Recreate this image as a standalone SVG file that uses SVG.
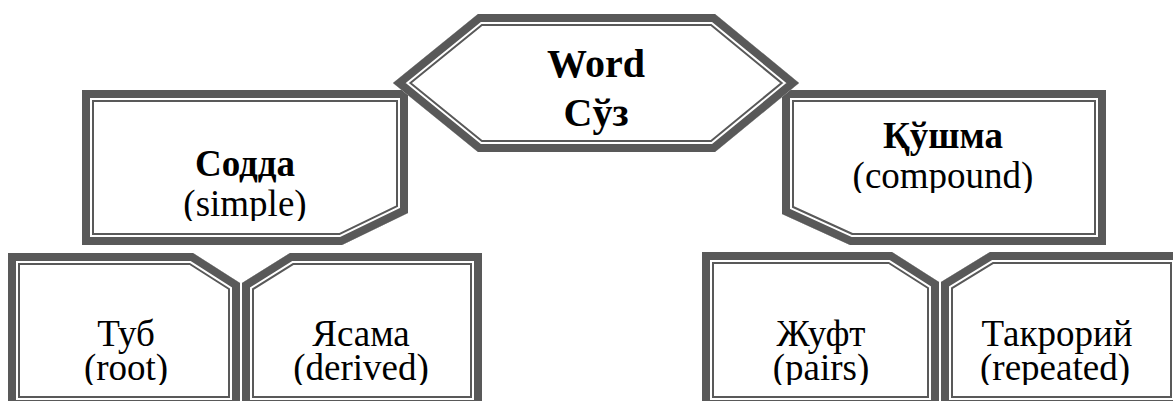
<svg xmlns="http://www.w3.org/2000/svg" width="1173" height="401" viewBox="0 0 1173 401">
<style>
.f{fill:#fff;stroke:none}
.o{fill:none;stroke:#595959;stroke-width:24;stroke-linejoin:miter;stroke-miterlimit:20}
.w{fill:none;stroke:#fff;stroke-width:20;stroke-linejoin:miter;stroke-miterlimit:20}
.i{fill:none;stroke:#595959;stroke-width:16;stroke-linejoin:miter;stroke-miterlimit:20}
text{font-family:'Liberation Serif','Times New Roman',serif;font-size:37px;fill:#000;text-anchor:middle}
.b{font-weight:bold}
.big{font-size:40px}
</style>
<defs>
<polygon id="p-word" points="393,83 478,14 715,14 799,83 715,152 478,152"/>
<polygon id="p-sodda" points="82,90 408,90 408,213 342,245 82,245"/>
<polygon id="p-qushma" points="782,90 1106,90 1106,245 850,245 782,214"/>
<polygon id="p-tub" points="8,253 193,253 240,283 240,408 8,408"/>
<polygon id="p-yasama" points="242,283 290,253 482,253 482,408 242,408"/>
<polygon id="p-juft" points="702,252 892,252 939,282 939,408 702,408"/>
<polygon id="p-takror" points="941,282 990,252 1182,252 1182,408 941,408"/>
<clipPath id="c-word"><polygon points="393,83 478,14 715,14 799,83 715,152 478,152"/></clipPath>
<clipPath id="c-sodda"><polygon points="82,90 408,90 408,213 342,245 82,245"/></clipPath>
<clipPath id="c-qushma"><polygon points="782,90 1106,90 1106,245 850,245 782,214"/></clipPath>
<clipPath id="c-tub"><polygon points="8,253 193,253 240,283 240,408 8,408"/></clipPath>
<clipPath id="c-yasama"><polygon points="242,283 290,253 482,253 482,408 242,408"/></clipPath>
<clipPath id="c-juft"><polygon points="702,252 892,252 939,282 939,408 702,408"/></clipPath>
<clipPath id="c-takror"><polygon points="941,282 990,252 1182,252 1182,408 941,408"/></clipPath>
<clipPath id="t-sodda"><rect x="90" y="100" width="310" height="121"/></clipPath>
<clipPath id="t-qushma"><rect x="790" y="100" width="310" height="93"/></clipPath>
<clipPath id="t-bottom"><rect x="0" y="260" width="1173" height="125"/></clipPath>
</defs>

<g id="connectors"></g>

<g id="node-sodda">
<g clip-path="url(#c-sodda)">
<use href="#p-sodda" class="f"/><use href="#p-sodda" class="o"/><use href="#p-sodda" class="w"/><use href="#p-sodda" class="i"/>
</g>
<g clip-path="url(#t-sodda)">
<text x="245" y="176" class="b">Содда</text>
<text x="245" y="216">(simple)</text>
</g>
</g>

<g id="node-qushma">
<g clip-path="url(#c-qushma)">
<use href="#p-qushma" class="f"/><use href="#p-qushma" class="o"/><use href="#p-qushma" class="w"/><use href="#p-qushma" class="i"/>
</g>
<g clip-path="url(#t-qushma)">
<text x="943" y="148" class="b">Қўшма</text>
<text x="943" y="188">(compound)</text>
</g>
</g>

<g id="node-word">
<g clip-path="url(#c-word)">
<use href="#p-word" class="f"/><use href="#p-word" class="o"/><use href="#p-word" class="w"/><use href="#p-word" class="i"/>
</g>
<text x="596" y="77" class="b big">Word</text>
<text x="596" y="126" class="b big">Сўз</text>
</g>

<g id="node-tub">
<g clip-path="url(#c-tub)">
<use href="#p-tub" class="f"/><use href="#p-tub" class="o"/><use href="#p-tub" class="w"/><use href="#p-tub" class="i"/>
</g>
<g clip-path="url(#t-bottom)">
<text x="126" y="346">Туб</text>
<text x="126" y="380">(root)</text>
</g>
</g>

<g id="node-yasama">
<g clip-path="url(#c-yasama)">
<use href="#p-yasama" class="f"/><use href="#p-yasama" class="o"/><use href="#p-yasama" class="w"/><use href="#p-yasama" class="i"/>
</g>
<g clip-path="url(#t-bottom)">
<text x="361" y="346">Ясама</text>
<text x="361" y="380">(derived)</text>
</g>
</g>

<g id="node-juft">
<g clip-path="url(#c-juft)">
<use href="#p-juft" class="f"/><use href="#p-juft" class="o"/><use href="#p-juft" class="w"/><use href="#p-juft" class="i"/>
</g>
<g clip-path="url(#t-bottom)">
<text x="821" y="346">Жуфт</text>
<text x="821" y="380">(pairs)</text>
</g>
</g>

<g id="node-takror">
<g clip-path="url(#c-takror)">
<use href="#p-takror" class="f"/><use href="#p-takror" class="o"/><use href="#p-takror" class="w"/><use href="#p-takror" class="i"/>
</g>
<g clip-path="url(#t-bottom)">
<text x="1057" y="346">Такрорий</text>
<text x="1055" y="380">(repeated)</text>
</g>
</g>
</svg>
